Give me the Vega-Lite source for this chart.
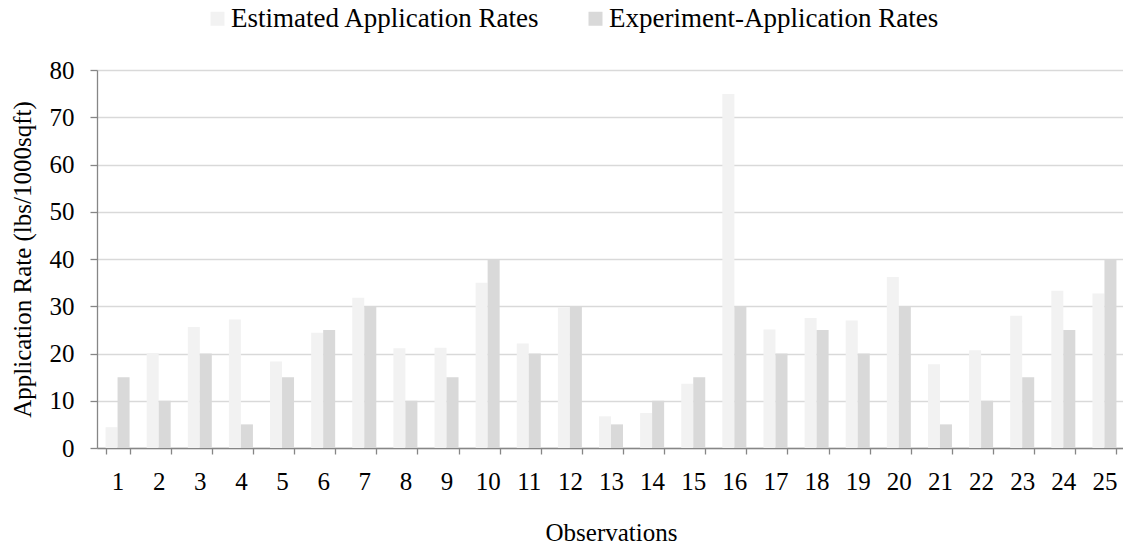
{
  "$schema": "https://vega.github.io/schema/vega-lite/v6.json",
  "autosize": {"type": "none"},
  "padding": {"left": 97, "top": 70, "right": 0, "bottom": 98},
  "width": 1028,
  "height": 378,
  "background": "white",
  "config": {
    "view": {"stroke": null},
    "font": "Liberation Serif",
    "axis": {
      "labelFont": "Liberation Serif",
      "titleFont": "Liberation Serif",
      "labelColor": "#000000",
      "titleColor": "#000000",
      "titleFontWeight": "normal",
      "domainColor": "#868686",
      "tickColor": "#868686",
      "gridColor": "#d9d9d9",
      "gridWidth": 1.3
    },
    "legend": {
      "labelFont": "Liberation Serif",
      "labelColor": "#000000"
    }
  },
  "data": {
    "values": [
      {"obs": 1, "series": "Estimated Application Rates", "value": 4.4},
      {"obs": 2, "series": "Estimated Application Rates", "value": 20.1},
      {"obs": 3, "series": "Estimated Application Rates", "value": 25.6},
      {"obs": 4, "series": "Estimated Application Rates", "value": 27.2},
      {"obs": 5, "series": "Estimated Application Rates", "value": 18.3},
      {"obs": 6, "series": "Estimated Application Rates", "value": 24.4},
      {"obs": 7, "series": "Estimated Application Rates", "value": 31.8},
      {"obs": 8, "series": "Estimated Application Rates", "value": 21.1},
      {"obs": 9, "series": "Estimated Application Rates", "value": 21.2},
      {"obs": 10, "series": "Estimated Application Rates", "value": 35.0},
      {"obs": 11, "series": "Estimated Application Rates", "value": 22.1},
      {"obs": 12, "series": "Estimated Application Rates", "value": 29.8},
      {"obs": 13, "series": "Estimated Application Rates", "value": 6.7},
      {"obs": 14, "series": "Estimated Application Rates", "value": 7.4},
      {"obs": 15, "series": "Estimated Application Rates", "value": 13.6},
      {"obs": 16, "series": "Estimated Application Rates", "value": 74.9},
      {"obs": 17, "series": "Estimated Application Rates", "value": 25.1},
      {"obs": 18, "series": "Estimated Application Rates", "value": 27.5},
      {"obs": 19, "series": "Estimated Application Rates", "value": 27.0},
      {"obs": 20, "series": "Estimated Application Rates", "value": 36.2},
      {"obs": 21, "series": "Estimated Application Rates", "value": 17.7},
      {"obs": 22, "series": "Estimated Application Rates", "value": 20.7},
      {"obs": 23, "series": "Estimated Application Rates", "value": 28.0},
      {"obs": 24, "series": "Estimated Application Rates", "value": 33.3},
      {"obs": 25, "series": "Estimated Application Rates", "value": 32.7},
      {"obs": 1, "series": "Experiment-Application Rates", "value": 15},
      {"obs": 2, "series": "Experiment-Application Rates", "value": 10},
      {"obs": 3, "series": "Experiment-Application Rates", "value": 20},
      {"obs": 4, "series": "Experiment-Application Rates", "value": 5},
      {"obs": 5, "series": "Experiment-Application Rates", "value": 15},
      {"obs": 6, "series": "Experiment-Application Rates", "value": 25},
      {"obs": 7, "series": "Experiment-Application Rates", "value": 30},
      {"obs": 8, "series": "Experiment-Application Rates", "value": 10},
      {"obs": 9, "series": "Experiment-Application Rates", "value": 15},
      {"obs": 10, "series": "Experiment-Application Rates", "value": 40},
      {"obs": 11, "series": "Experiment-Application Rates", "value": 20},
      {"obs": 12, "series": "Experiment-Application Rates", "value": 30},
      {"obs": 13, "series": "Experiment-Application Rates", "value": 5},
      {"obs": 14, "series": "Experiment-Application Rates", "value": 10},
      {"obs": 15, "series": "Experiment-Application Rates", "value": 15},
      {"obs": 16, "series": "Experiment-Application Rates", "value": 30},
      {"obs": 17, "series": "Experiment-Application Rates", "value": 20},
      {"obs": 18, "series": "Experiment-Application Rates", "value": 25},
      {"obs": 19, "series": "Experiment-Application Rates", "value": 20},
      {"obs": 20, "series": "Experiment-Application Rates", "value": 30},
      {"obs": 21, "series": "Experiment-Application Rates", "value": 5},
      {"obs": 22, "series": "Experiment-Application Rates", "value": 10},
      {"obs": 23, "series": "Experiment-Application Rates", "value": 15},
      {"obs": 24, "series": "Experiment-Application Rates", "value": 25},
      {"obs": 25, "series": "Experiment-Application Rates", "value": 40}
    ]
  },
  "mark": {"type": "bar"},
  "encoding": {
    "x": {
      "field": "obs",
      "type": "ordinal",
      "scale": {"paddingInner": 0.416, "paddingOuter": 0.208},
      "axis": {
        "title": "Observations",
        "labelAngle": 0,
        "labelFontSize": 25,
        "titleFontSize": 25,
        "tickBand": "extent",
        "tickSize": 6,
        "tickWidth": 1.3,
        "domainWidth": 1.3,
        "labelPadding": 15,
        "grid": false,
        "titleX": 514,
        "titleY": 92,
        "titleAlign": "center",
        "titleBaseline": "alphabetic",
        "titleAnchor": null
      }
    },
    "xOffset": {
      "field": "series",
      "sort": ["Estimated Application Rates", "Experiment-Application Rates"]
    },
    "y": {
      "field": "value",
      "type": "quantitative",
      "scale": {"domain": [0, 80], "nice": false},
      "axis": {
        "title": "Application Rate (lbs/1000sqft)",
        "values": [0, 10, 20, 30, 40, 50, 60, 70, 80],
        "labelFontSize": 25,
        "titleFontSize": 25,
        "tickSize": 7,
        "tickWidth": 1.3,
        "domainWidth": 1.3,
        "labelPadding": 16,
        "titleX": -67,
        "titleY": 189,
        "titleAngle": -90,
        "titleAlign": "center",
        "titleBaseline": "alphabetic",
        "titleAnchor": null
      }
    },
    "color": {
      "field": "series",
      "type": "nominal",
      "scale": {
        "domain": ["Estimated Application Rates", "Experiment-Application Rates"],
        "range": ["#f2f2f2", "#d9d9d9"]
      },
      "legend": {
        "title": null,
        "orient": "none",
        "direction": "horizontal",
        "legendX": 107,
        "legendY": -65,
        "symbolType": "square",
        "symbolSize": 196,
        "symbolStrokeWidth": 0,
        "labelFontSize": 27,
        "labelOffset": 0,
        "columnPadding": 42,
        "padding": 0,
        "labelLimit": 0
      }
    }
  }
}
